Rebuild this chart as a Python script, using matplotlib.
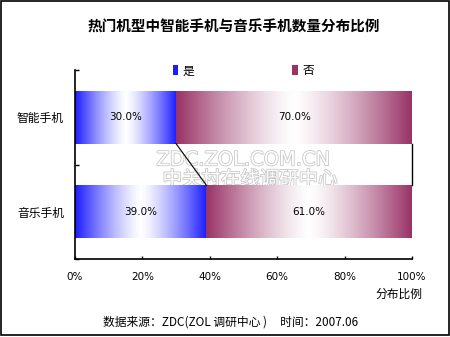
import numpy as np
import matplotlib.pyplot as plt
import matplotlib.patheffects as pe
from matplotlib.colors import to_rgb
from matplotlib.patches import Rectangle, Patch


categories = ["智能手机", "音乐手机"]
yes_share = [30.0, 39.0]
no_share = [70.0, 61.0]
series_names = ["是", "否"]
x_ticks = [0, 20, 40, 60, 80, 100]

plt.rcParams["font.family"] = ["Noto Sans CJK SC", "DejaVu Sans"]

BLUE = "#1c1cff"
MAROON = "#993366"
BAR_H = 0.56


def gradient(color, n=256):
    """
    Horizontal colour -> white -> colour strip.
    """

    t = np.linspace(0, 1, n)
    w = np.abs(2 * t - 1) ** 1.3
    c = np.array(to_rgb(color))
    rgb = 1 - w[:, None] * (1 - c[None, :])
    return rgb[None, :, :]


fig = plt.figure(figsize=(4.5, 3.37), dpi=100)

ax = fig.add_axes([75 / 450, 1 - 259 / 337, 337 / 450, 189 / 337])

# watermark, under the bars
ax.text(50, 0.45, "ZDC.ZOL.COM.CN", ha="center", va="center",
        fontsize=14, color="white", zorder=0.5, family="DejaVu Sans",
        path_effects=[pe.withStroke(linewidth=1.2, foreground="#c8c8c8")])
ax.text(52, 0.66, "中关村在线调研中心", ha="center", va="center",
        fontsize=14, color="white", zorder=0.5,
        path_effects=[pe.withStroke(linewidth=1.2, foreground="#c8c8c8")])

for i, cat in enumerate(categories):
    left = 0
    for val, color in zip([yes_share[i], no_share[i]], [BLUE, MAROON]):
        ax.imshow(gradient(color),
                  extent=[left, left + val, i + BAR_H / 2, i - BAR_H / 2],
                  aspect="auto", interpolation="bilinear", zorder=1)
        ax.text(left + val / 2, i, f"{val:.1f}%", ha="center", va="center",
                fontsize=7.5, family="DejaVu Sans", zorder=3)
        left += val

# series line between the two bars
ax.plot([yes_share[0], yes_share[1]], [0 + BAR_H / 2, 1 - BAR_H / 2],
        color="black", lw=0.8, zorder=2)
ax.plot([100, 100], [0 + BAR_H / 2, 1 - BAR_H / 2],
        color="black", lw=1.0, zorder=2, clip_on=False)

ax.set_xlim(0, 100)
ax.set_ylim(1.5, -0.5)

ax.set_xticks(x_ticks)
ax.set_xticklabels([f"{v}%" for v in x_ticks], family="DejaVu Sans", fontsize=7.5)
ax.set_yticks(range(len(categories)))
ax.set_yticklabels(categories, fontsize=8.5)
ax.set_yticks([-0.5, 0.5, 1.5], minor=True)

ax.tick_params(axis="x", direction="in", length=2.5, pad=9, width=1)
ax.tick_params(axis="y", which="major", length=0, pad=8)
ax.tick_params(axis="y", which="minor", direction="in", length=3, width=1)

for side in ["top", "right"]:
    ax.spines[side].set_visible(False)
for side in ["left", "bottom"]:
    ax.spines[side].set_linewidth(1.2)

handles = [Patch(facecolor=BLUE), Patch(facecolor=MAROON)]
ax.legend(handles, series_names, loc="center", bbox_to_anchor=(0.5, 0.995),
          ncol=2, frameon=False, fontsize=8.5, handlelength=0.45,
          handleheight=0.9, handletextpad=0.4, columnspacing=8.3)

fig.text(234 / 450, 1 - 27 / 337, "热门机型中智能手机与音乐手机数量分布比例",
         ha="center", va="center", fontsize=10.5, fontweight="bold")
fig.text(422 / 450, 1 - 294 / 337, "分布比例", ha="right", va="center",
         fontsize=8.5)
fig.text(231 / 450, 1 - 322 / 337, "数据来源：ZDC(ZOL 调研中心 )     时间：2007.06",
         ha="center", va="center", fontsize=8.5)

fig.add_artist(Rectangle((0.5 / 450, 2 / 337), 448.5 / 450, 334 / 337,
                         transform=fig.transFigure, fill=False,
                         edgecolor="black", lw=1.2))

fig.savefig("out.png", dpi=100)
